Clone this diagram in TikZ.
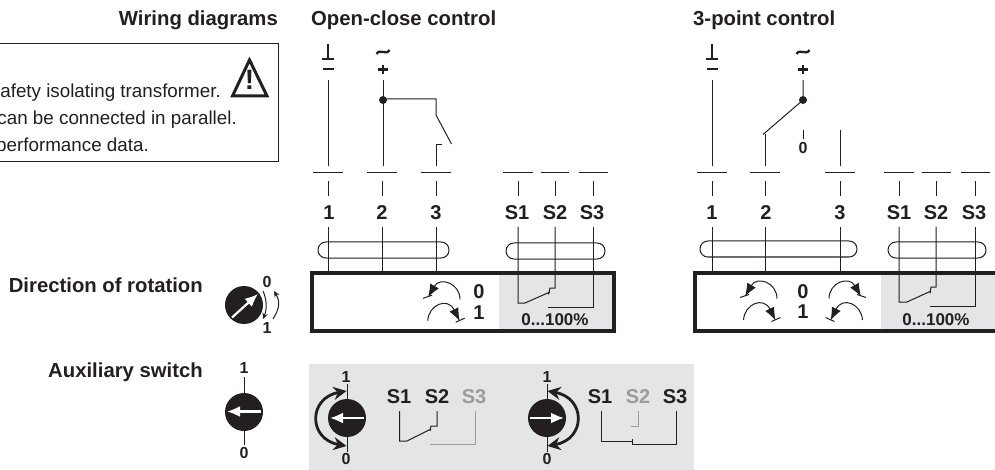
\documentclass[tikz,border=0pt]{standalone}
\usepackage{fontspec}
\setmainfont{Liberation Sans}
\usetikzlibrary{arrows.meta}
\definecolor{ink}{HTML}{231F20}
\definecolor{panel}{HTML}{E4E5E7}
\definecolor{faded}{HTML}{9A9B9D}
\tikzset{
  x=1pt,y=-1pt,
  wire/.style={draw=ink,line width=1pt},
  fadewire/.style={draw=faded,line width=1pt},
  head/.style={font=\fontsize{20.3}{22}\selectfont\bfseries,text=ink,inner sep=0pt},
  term/.style={font=\fontsize{20}{22}\selectfont\bfseries,text=ink,inner sep=0pt,anchor=center},
  small/.style={font=\fontsize{16}{18}\selectfont\bfseries,text=ink,inner sep=0pt,anchor=center},
  note/.style={font=\fontsize{18.8}{20}\selectfont,text=ink,inner sep=0pt},
  frame/.style={draw=ink,line width=4pt},
  capsule/.style={draw=ink,line width=1pt,rounded corners=7.9pt},
  knob/.style={circle,fill=ink,minimum size=38pt,inner sep=0pt},
  whitearrow/.style={draw=white,line width=2.2pt,-{Latex[length=13pt,width=11pt]}},
  bigturn/.style={draw=ink,line width=2.8pt,{Stealth[length=13pt,width=13pt]}-{Stealth[length=13pt,width=13pt]}},
  thinturn/.style={draw=ink,line width=1pt,-{Stealth[length=6pt,width=5.5pt]}},
  turnup/.pic={
    \draw[wire,-{Latex[length=13pt,width=10pt]}] (0,0) .. controls (0,-16) and (-20,-23) .. (-32,-2);
    \draw[wire] (-37,-1) -- (-28,-4);
  },
  turndown/.pic={
    \draw[wire,-{Latex[length=13pt,width=10pt]}] (0,0) .. controls (1,-16) and (20,-24) .. (32,0.5);
    \draw[wire] (28,1.5) -- (37,-2.5);
  }
}
\begin{document}
\begin{tikzpicture}
\useasboundingbox (0,0) rectangle (995,470);
\clip (0,0) rectangle (995,470);
% headings
\node[head,anchor=east] (hwd) at (278,20) {Wiring diagrams};
\node[head,anchor=west] (hoc) at (311,20) {Open-close control};
\node[head,anchor=west] (h3p) at (693,20) {3-point control};
\node[head,anchor=east] (hdr) at (203,285) {Direction of rotation};
\node[head,anchor=east] (has) at (203,372) {Auxiliary switch};
% note box
\draw[draw=ink,line width=0.9pt] (-2,43.5) -- (278,43.5) -- (278,161) -- (-2,161);
\node[note,anchor=east] (n1) at (221,92.5) {afety isolating transformer.};
\node[note,anchor=east] (n2) at (237,120) {can be connected in parallel.};
\node[note,anchor=east] (n3) at (149,147) {performance data.};
\draw[draw=ink,line width=3pt,line join=miter] (249.5,60) -- (232.5,96) -- (267,96) -- cycle;
\node[font=\fontsize{28}{28}\selectfont\bfseries,text=ink,inner sep=0pt] (warn) at (249.5,80) {!};
% top supply symbols
\foreach \n/\x in {a/328,b/712}{
  \draw[draw=ink,line width=2.6pt] (\x,44) -- (\x,58);
  \draw[draw=ink,line width=2.6pt] (\x-6,59) -- (\x+6,59);
  \draw[draw=ink,line width=2.2pt] (\x-5.5,69) -- (\x+5.5,69);
}
\foreach \n/\x in {a/383,b/803}{
  \draw[draw=ink,line width=2.3pt] (\x-6.5,54) .. controls (\x-3,48) and (\x+3,56) .. (\x+6.5,50);
  \draw[draw=ink,line width=2.4pt] (\x-4.8,69.5) -- (\x+4.8,69.5) (\x,65) -- (\x,74);
}
% left control wiring
\draw[wire] (328,80) -- (328,166);
\draw[wire] (383,80) -- (383,166);
\fill[ink] (383,100) circle (4);
\draw[wire] (383,99) -- (436,99) -- (436,115) -- (451.5,144);
\draw[wire] (436,166) -- (436,145) -- (442,145);
% right control wiring
\draw[wire] (712,80) -- (712,166);
\draw[wire] (803,80) -- (803,100) -- (763,134.5);
\fill[ink] (803,100) circle (4);
\draw[wire] (765,134) -- (765,166);
\draw[wire] (803,130) -- (803,139);
\node[small] (zero) at (803,148) {0};
\draw[wire] (840,130) -- (840,166);
% terminal bars
\foreach \x/\h in {328/15,382/15,436/15,518/15,555/14,593/14.5,712/15,765/15,840/15,899/15,936/14.5,975/14.5}{
  \draw[wire] (\x-\h,173) -- (\x+\h,173);
  \draw[wire] (\x,181) -- (\x,196);
}
% terminal names
\foreach \n/\x/\t in {la/329/1,lb/382/2,lc/436/3,ld/517/S1,le/555/S2,lf/592/S3,ra/712/1,rb/766/2,rc/840/3,rd/899/S1,re/936/S2,rf/974/S3}{
  \node[term] (t\n) at (\x,213) {\t};
}
% device boxes
\fill[panel] (499,273) rectangle (613,331);
\fill[panel] (881,273) rectangle (997,331);
\draw[capsule] (318,242) rectangle (449,258);
\draw[capsule] (506,243) rectangle (605,259);
\draw[capsule] (700,241) rectangle (857,257);
\draw[capsule] (888,242) rectangle (986,258);
\foreach \x in {328,382,436,712,765,840}{\draw[wire] (\x,227) -- (\x,272);}
\draw[frame] (312,273) rectangle (613.5,331);
\draw[frame] (695,273) rectangle (1000,331);
% contacts in device
\draw[wire] (518,227) -- (518,303) -- (525,303) -- (550,292);
\draw[wire] (548.5,294.5) -- (550,288) -- (555,288) -- (555,227);
\draw[wire] (593,227) -- (593,307) -- (548,307);
\draw[wire] (899,227) -- (899,302) -- (907,302) -- (931,291);
\draw[wire] (930,293.5) -- (931,287) -- (936,287) -- (936,227);
\draw[wire] (975,227) -- (975,306) -- (930,306);
\node[term,font=\fontsize{17}{18}\selectfont\bfseries] (pa) at (555,320) {0...100\%};
\node[term,font=\fontsize{17}{18}\selectfont\bfseries] (pb) at (936,320) {0...100\%};
% rotation arrows
\pic at (460,299.3) {turnup};
\pic at (427.7,320.7) {turndown};
\node[term] (oa) at (479,292) {0};
\node[term] (ob) at (479,313) {1};
\pic at (777,298.5) {turnup};
\pic at (743.5,320) {turndown};
\pic[xscale=-1] at (829,298.5) {turnup};
\pic[xscale=-1] at (862.5,320) {turndown};
\node[term] (oc) at (803,292) {0};
\node[term] (od) at (803,312) {1};
% direction knob
\node[knob] (kd) at (244,305) {};
\draw[whitearrow] (232,317.5) -- (258,294);
\node[small] (kd0) at (267,282) {0};
\node[small] (kd1) at (267,328) {1};
\draw[thinturn] (263,291) .. controls (267,300) and (267,309) .. (263,319);
\draw[thinturn] (273,319) .. controls (280,308) and (280,301) .. (274,291);
% auxiliary knob
\draw[draw=ink,line width=1pt] (244,377) -- (244,445);
\node[knob] (ka) at (244,412) {};
\draw[whitearrow] (261,411.5) -- (227,411.5);
\node[small] (ka1) at (244,368) {1};
\node[small] (ka0) at (244,453) {0};
% bottom panel
\fill[panel] (309,364) rectangle (694,470);
\draw[draw=ink,line width=1pt] (347,384) -- (347,452);
\node[knob] (kl) at (347,418) {};
\draw[whitearrow] (364,418) -- (330,418);
\node[small] (kl1) at (346,377) {1};
\node[small] (kl0) at (346,459) {0};
\draw[bigturn] (346.5,391) .. controls (308,398) and (308,439) .. (346.5,446);
\draw[draw=ink,line width=1pt] (547,384) -- (547,452);
\node[knob] (kr) at (547,418) {};
\draw[whitearrow] (530,418) -- (564,418);
\node[small] (kr1) at (547,377) {1};
\node[small] (kr0) at (547,459) {0};
\draw[bigturn] (547.5,391) .. controls (586,398) and (586,439) .. (547.5,446);
\node[term] (sa) at (399,397) {S1};
\node[term] (sb) at (437,397) {S2};
\node[term,text=faded] (sc) at (474,397) {S3};
\draw[wire] (399.5,411) -- (399.5,441) -- (407,441) -- (431,429);
\draw[wire] (430,431) -- (431,426) -- (437,426) -- (437,411);
\draw[fadewire] (475,411) -- (475,444) -- (430,444);
\node[term] (se) at (600,397) {S1};
\node[term,text=faded] (sf) at (638,397) {S2};
\node[term] (sg) at (675,397) {S3};
\draw[wire] (601,411) -- (601,441) -- (632,441);
\draw[wire] (632,439) -- (632,444) -- (676,444) -- (676,411);
\draw[fadewire] (638.5,411) -- (638.5,426) -- (631,426);
\end{tikzpicture}
\end{document}
